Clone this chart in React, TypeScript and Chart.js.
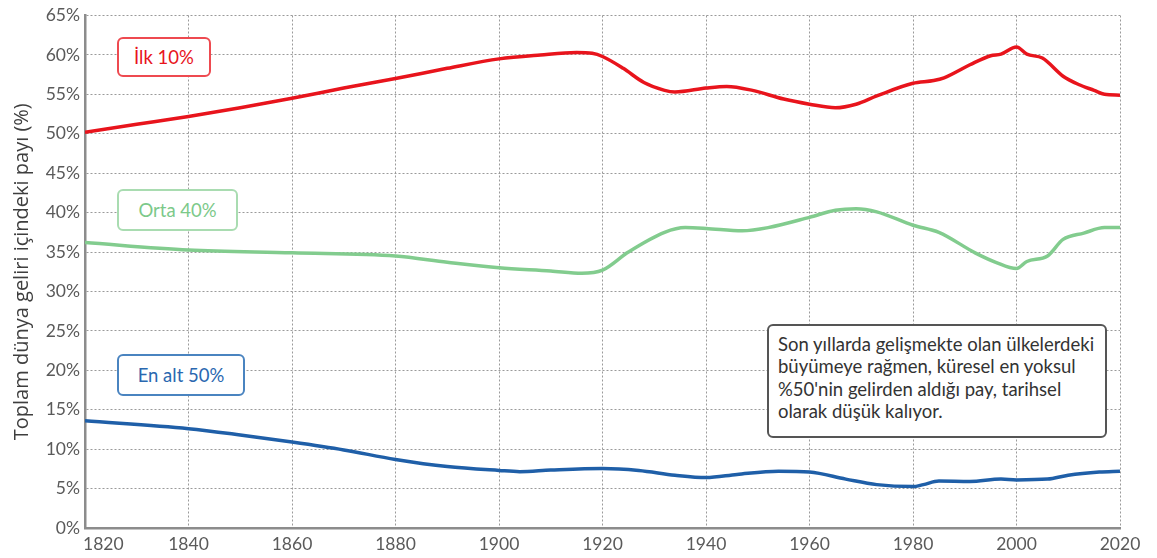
import React, { useEffect, useRef } from "react";
import { Chart, registerables } from "chart.js";

Chart.register(...registerables);

const FONT = "Lato, 'Noto Sans', sans-serif";
const TITLE_FONT = "'Open Sans', 'Noto Sans', sans-serif";

const xTicks = [1820, 1840, 1860, 1880, 1900, 1920, 1940, 1960, 1980, 2000, 2020];

const topYears = [1820, 1830, 1840, 1850, 1860, 1870, 1880, 1890, 1900, 1908, 1915, 1918, 1920, 1924, 1928, 1932, 1934, 1940, 1944, 1949, 1955, 1960, 1965, 1969, 1973, 1980, 1984, 1986, 1991, 1995, 1997, 2000, 2002, 2005, 2009, 2012, 2015, 2017, 2020];
const topValues = [50.2, 51.2, 52.2, 53.3, 54.5, 55.8, 57.0, 58.3, 59.5, 60.0, 60.3, 60.2, 59.8, 58.3, 56.5, 55.5, 55.3, 55.8, 56.0, 55.5, 54.4, 53.75, 53.3, 53.75, 54.8, 56.4, 56.75, 57.1, 58.75, 59.9, 60.1, 61.0, 60.1, 59.6, 57.3, 56.25, 55.5, 55.0, 54.9];

const midYears = [1820, 1840, 1860, 1880, 1890, 1900, 1910, 1916, 1920, 1925, 1932, 1936, 1940, 1947, 1952, 1960, 1965, 1969, 1973, 1980, 1985, 1992, 1996, 2000, 2002, 2006, 2009, 2013, 2017, 2020];
const midValues = [36.2, 35.25, 34.9, 34.5, 33.7, 33.0, 32.6, 32.3, 32.7, 35.0, 37.5, 38.1, 38.0, 37.7, 38.1, 39.4, 40.3, 40.5, 40.1, 38.4, 37.5, 34.9, 33.7, 32.9, 33.8, 34.5, 36.6, 37.4, 38.1, 38.1];

const botYears = [1820, 1840, 1850, 1860, 1870, 1880, 1890, 1900, 1904, 1910, 1920, 1927, 1934, 1940, 1946, 1954, 1960, 1967, 1973, 1980, 1982, 1985, 1991, 1997, 2000, 2006, 2010, 2016, 2020];
const botValues = [13.6, 12.6, 11.8, 10.9, 9.9, 8.7, 7.8, 7.3, 7.15, 7.35, 7.55, 7.3, 6.7, 6.4, 6.8, 7.2, 7.1, 6.2, 5.5, 5.25, 5.5, 5.95, 5.9, 6.2, 6.1, 6.2, 6.7, 7.1, 7.2];

const seriesNames = ["İlk 10%", "Orta 40%", "En alt 50%"];
const yTitle = "Toplam dünya geliri içindeki payı (%)";
const noteLines = [
  "Son yıllarda gelişmekte olan ülkelerdeki",
  "büyümeye rağmen, küresel en yoksul",
  "%50'nin gelirden aldığı pay, tarihsel",
  "olarak düşük kalıyor.",
];

const toPoints = (xs: number[], ys: number[]) => xs.map((x, i) => ({ x, y: ys[i] }));

export default function App() {
  const ref = useRef<HTMLCanvasElement | null>(null);

  useEffect(() => {
    document.body.style.margin = "0";
    const canvas = ref.current;
    if (!canvas) return;

    const xLabelPlugin = {
      id: "xLabels",
      afterDraw(chart: any) {
        const { ctx } = chart;
        const xs = chart.scales.x;
        ctx.save();
        ctx.font = `17.5px ${FONT}`;
        ctx.fillStyle = "#5a5a5a";
        ctx.textBaseline = "middle";
        xTicks.forEach((yr, i) => {
          let px = xs.getPixelForValue(yr);
          if (i === 0) {
            ctx.textAlign = "left";
            px = xs.left - 2;
          } else {
            ctx.textAlign = "center";
          }
          ctx.fillText(String(yr), px, 544);
        });
        ctx.restore();
      },
    };

    const line = (label: string, data: any[], color: string) => ({
      label,
      data,
      borderColor: color,
      backgroundColor: color,
      borderWidth: 3.5,
      pointRadius: 0,
      cubicInterpolationMode: "monotone" as const,
      fill: false,
    });

    const chart = new Chart(canvas, {
      type: "line",
      data: {
        datasets: [
          line(seriesNames[0], toPoints(topYears, topValues), "#e8141c"),
          line(seriesNames[1], toPoints(midYears, midValues), "#82cc8e"),
          line(seriesNames[2], toPoints(botYears, botValues), "#1f5fa8"),
        ],
      },
      options: {
        responsive: false,
        animation: false,
        layout: { padding: { top: 10.5, right: 37, left: 0, bottom: 0 } },
        plugins: { legend: { display: false }, tooltip: { enabled: false } },
        scales: {
          x: {
            type: "linear",
            min: 1820,
            max: 2020,
            ticks: { stepSize: 20, display: false },
            grid: { color: "#9a9a9a", lineWidth: 1, drawTicks: false },
            border: { display: true, color: "#8c8c8c", width: 2.5, dash: [2, 2] },
            afterFit: (s: any) => {
              s.height = 30;
            },
          },
          y: {
            min: 0,
            max: 65,
            ticks: {
              stepSize: 5,
              padding: 5,
              color: "#5a5a5a",
              font: { family: FONT, size: 17.5 },
              callback: (v: any) => `${v}%`,
            },
            grid: { color: "#9a9a9a", lineWidth: 1, drawTicks: false },
            border: { display: true, color: "#8c8c8c", width: 2.5, dash: [2, 2] },
            title: {
              display: true,
              text: yTitle,
              color: "#3e3e3e",
              font: { family: TITLE_FONT, size: 20, weight: 500 as any },
              padding: { top: 10, bottom: 0 },
            },
            afterFit: (s: any) => {
              s.width = 85;
            },
          },
        },
      },
      plugins: [xLabelPlugin],
    });
    return () => chart.destroy();
  }, []);

  const boxBase: React.CSSProperties = {
    position: "absolute",
    background: "#fff",
    borderRadius: 6,
    boxSizing: "border-box",
    display: "flex",
    alignItems: "center",
    justifyContent: "center",
    fontFamily: FONT,
    fontSize: 18.5,
  };

  return (
    <div style={{ position: "relative", width: 1157, height: 558, background: "#fff" }}>
      <canvas ref={ref} width={1157} height={558} style={{ display: "block" }} />
      <div style={{ ...boxBase, left: 117, top: 37, width: 94, height: 40, border: "2px solid #ee4a50", color: "#e8141c" }}>
        {seriesNames[0]}
      </div>
      <div style={{ ...boxBase, left: 117, top: 189, width: 121, height: 42, border: "2px solid #a9dcb1", color: "#7cc98a" }}>
        {seriesNames[1]}
      </div>
      <div style={{ ...boxBase, left: 117, top: 354, width: 128, height: 42, border: "2px solid #4a84c0", color: "#2a68b0" }}>
        {seriesNames[2]}
      </div>
      <div
        style={{
          position: "absolute",
          left: 767,
          top: 324,
          width: 340,
          height: 114,
          boxSizing: "border-box",
          border: "2px solid #555",
          borderRadius: 6,
          background: "#fff",
          padding: "7px 0 0 9px",
          fontFamily: FONT,
          fontSize: 18.5,
          lineHeight: "22.3px",
          color: "#333",
          whiteSpace: "nowrap",
        }}
      >
        {noteLines.map((l, i) => (
          <div key={i}>{l}</div>
        ))}
      </div>
    </div>
  );
}
